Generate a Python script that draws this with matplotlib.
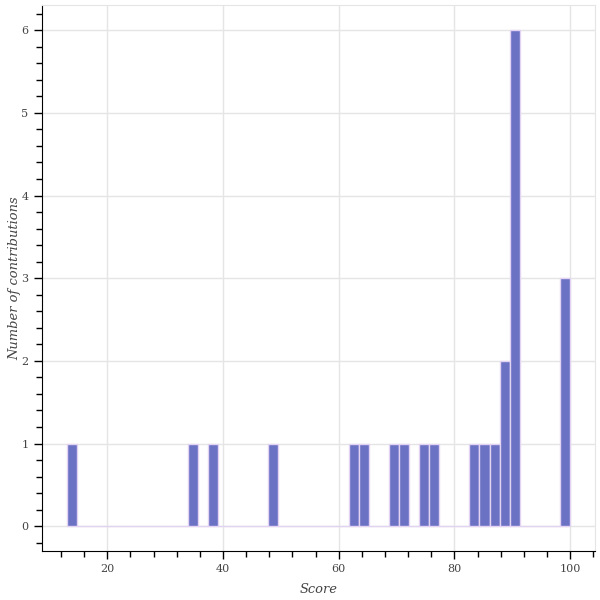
import numpy as np
import matplotlib
matplotlib.use("Agg")
import matplotlib.pyplot as plt
from matplotlib.ticker import MultipleLocator

# scores (50 bins between 13 and 100)
scores = [13, 35, 38, 48.5, 63, 65, 70, 71, 75, 77,
          84, 85, 87, 88, 89,
          90, 90, 90.5, 90.5, 91, 91,
          100, 100, 100]
n_bins = 50

x_label = "Score"
y_label = "Number of contributions"

fill_color = "#6b72c4"
edge_color = "#e3d3f3"

plt.rcParams['font.family'] = ['DejaVu Serif']

fig = plt.figure(figsize=(6, 6), dpi=100)
ax = fig.add_axes([0.0695, 0.0817, 0.9225, 0.9093])

counts, edges = np.histogram(scores, bins=n_bins)
ax.bar(edges[:-1], counts, width=np.diff(edges), align='edge',
       color=fill_color, edgecolor=edge_color, linewidth=1.0, zorder=3)

# Bokeh-like 5% range padding
lo, hi = edges[0], edges[-1]
pad = 0.05 * (hi - lo)
ax.set_xlim(lo - pad, hi + pad)
ax.set_ylim(-0.05 * counts.max(), counts.max() * 1.05)

ax.xaxis.set_major_locator(MultipleLocator(20))
ax.xaxis.set_minor_locator(MultipleLocator(4))
ax.yaxis.set_major_locator(MultipleLocator(1))
ax.yaxis.set_minor_locator(MultipleLocator(0.2))

ax.grid(True, which='major', color='#e5e5e5', linewidth=1, zorder=0)
ax.set_axisbelow(True)

ax.tick_params(which='major', direction='out', length=6, width=1,
               labelsize=8, labelcolor='#444444', color='black')
ax.tick_params(which='minor', direction='out', length=4, width=1, color='black')

for s in ['top', 'right']:
    ax.spines[s].set_color('#e5e5e5')
for s in ['left', 'bottom']:
    ax.spines[s].set_color('black')

ax.set_xlabel(x_label, fontsize=9.4, fontstyle='italic', color='#444444', labelpad=6)
ax.set_ylabel(y_label, fontsize=9.4, fontstyle='italic', color='#444444', labelpad=0)

fig.savefig("out.png", dpi=100)
